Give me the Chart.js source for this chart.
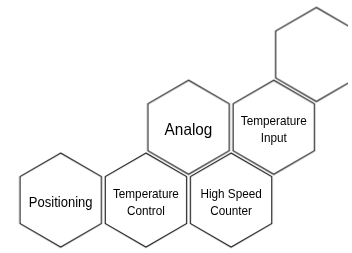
<!DOCTYPE html>
<html lang="en">

<head>
    <meta charset="UTF-8">
    <title>Hexagon modules</title>
    <script src="https://cdn.jsdelivr.net/npm/chart.js"></script>
    <style>
        body { margin: 0; background: #fff; }
        #wrap { width: 352px; height: 253px; }
    </style>
</head>

<body>
    <div id="wrap"><canvas id="myChart"></canvas></div>

    <script>
        // hex grid: column in half-steps, row from the bottom
        const modules = ['Positioning', 'Temperature\nControl', 'High Speed\nCounter', 'Analog', 'Temperature\nInput', ''];
        const cols = [0, 2, 4, 3, 5, 6];
        const rows = [0, 0, 0, 1, 1, 2];

        const HEX_R = 47;
        // label font size + horizontal squeeze (text in the picture is condensed)
        const fontFor = {
            'Positioning': [15.5, 0.84],
            'Analog': [16.5, 0.93]
        };
        const defaultFont = [13.5, 0.87];

        // draw one hexagon outline to use as the point style
        function hexImage(r) {
            const w = Math.ceil(r * Math.sqrt(3)) + 4, h = Math.ceil(r * 2) + 4;
            const c = document.createElement('canvas');
            c.width = w; c.height = h;
            const ctx = c.getContext('2d');
            ctx.strokeStyle = '#111';
            ctx.lineWidth = 1.1;
            ctx.beginPath();
            for (let i = 0; i < 6; i++) {
                const a = Math.PI / 2 + i * Math.PI / 3;
                const px = w / 2 + r * Math.cos(a), py = h / 2 - r * Math.sin(a);
                i ? ctx.lineTo(px, py) : ctx.moveTo(px, py);
            }
            ctx.closePath();
            ctx.stroke();
            return c;
        }

        const labelPlugin = {
            id: 'hexLabels',
            afterDatasetsDraw(chart) {
                const ctx = chart.ctx;
                const meta = chart.getDatasetMeta(0);
                ctx.fillStyle = '#000';
                ctx.textAlign = 'center';
                ctx.textBaseline = 'alphabetic';
                meta.data.forEach((pt, i) => {
                    if (!modules[i]) return;
                    const lines = modules[i].split('\n');
                    const [size, sx] = fontFor[modules[i]] || defaultFont;
                    const lh = 17.5;
                    // middle of the caps sits a little under the hex centre
                    const y0 = pt.y + 1.5 - (lines.length - 1) * lh / 2 + size * 0.36;
                    lines.forEach((t, j) => {
                        ctx.save();
                        ctx.font = size + 'px "Liberation Sans", Arial, sans-serif';
                        ctx.translate(pt.x, y0 + j * lh);
                        ctx.scale(sx, 1);
                        ctx.fillText(t, 0, 0);
                        ctx.restore();
                    });
                });
            }
        };

        const myChart = new Chart(document.getElementById('myChart'), {
            type: 'scatter',
            data: {
                datasets: [{
                    data: cols.map((c, i) => ({ x: c, y: rows[i] })),
                    pointStyle: hexImage(HEX_R),
                    pointHoverRadius: 0
                }]
            },
            options: {
                responsive: true,
                maintainAspectRatio: false,
                animation: false,
                events: [],
                layout: { padding: 0 },
                plugins: { legend: { display: false }, tooltip: { enabled: false } },
                scales: {
                    x: { display: false, min: -1.33, max: 6.743 },
                    y: { display: false, min: -0.672, max: 2.693 }
                }
            },
            plugins: [labelPlugin]
        });
    </script>
</body>

</html>
